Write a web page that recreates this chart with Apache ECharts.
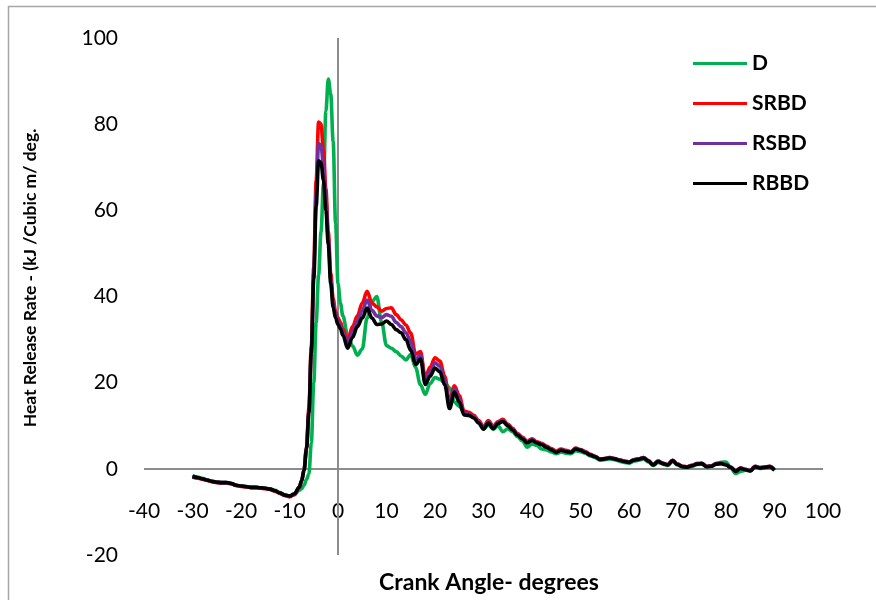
<!DOCTYPE html>
<html>
<head>
<meta charset="utf-8">
<script src="https://cdn.jsdelivr.net/npm/echarts@6/dist/echarts.min.js"></script>
<style>
  html, body { margin: 0; padding: 0; background: #fff; }
  #chart { width: 876px; height: 600px; }
</style>
</head>
<body>
<div id="chart"></div>
<script>
// Crank angle (degrees); finer steps through the main combustion peak
const angle = [
  -30, -29, -28, -27, -26, -25, -24, -23, -22, -21, -20, -19, -18, -17, -16, -15, -14, -13, -12, -11, -10, -9,
  -8, -7.5, -7, -6.5, -6, -5.5, -5, -4.5, -4, -3.5, -3, -2.5, -2, -1.5, -1, -0.5, 0, 0.5, 1,
  2, 3, 4, 5, 6, 7, 8, 9, 10, 11,
  12, 13, 14, 15, 16, 17, 18, 19, 20, 21,
  22, 23, 24, 25, 26, 27, 28, 29, 30, 31,
  32, 33, 34, 35, 36, 37, 38, 39, 40, 41,
  42, 43, 44, 45, 46, 47, 48, 49, 50, 51,
  52, 53, 54, 55, 56, 57, 58, 59, 60, 61,
  62, 63, 64, 65, 66, 67, 68, 69, 70, 71,
  72, 73, 74, 75, 76, 77, 78, 79, 80, 81,
  82, 83, 84, 85, 86, 87, 88, 89, 90
];

// Heat release rate, kJ / cubic m / deg
const hrrD = [
  -1.5, -1.9, -2.2, -2.6, -2.9, -3.1, -3.2, -3.2, -3.4, -3.8, -4.0, -4.1, -4.3, -4.3, -4.4, -4.5, -4.7, -5.0, -5.5, -6.0, -6.3, -6.0,
  -5.0, -4.6, -3.8, -2.5, -1.2, 6, 20, 34, 45, 55, 66, 83, 90.5, 87, 76, 57, 43, 38.5, 35.5,
  31, 28.5, 26.4, 27.8, 35, 38.8, 40, 34, 28.6, 28.0,
  27.2, 26.2, 25.3, 26.5, 23.5, 19.5, 17.3, 19.8, 21.2, 20.8,
  20.0, 18.8, 15.5, 14.5, 13.2, 12.4, 11.9, 11.2, 9.3, 10.2,
  9.2, 10.0, 8.6, 9.3, 8.6, 7.5, 6.5, 5.0, 5.8, 5.4,
  4.6, 4.4, 3.9, 3.5, 3.9, 3.6, 3.5, 4.2, 4.0, 3.6,
  3.0, 2.6, 2.0, 2.1, 2.3, 2.1, 1.8, 1.5, 1.3, 1.8,
  2.0, 2.3, 1.6, 0.8, 1.5, 1.1, 0.8, 1.7, 0.9, 0.4,
  0.3, 0.6, 1.0, 1.1, 0.5, 0.6, 1.2, 1.5, 1.6, 0.2,
  -1.1, -0.6, -0.3, -0.5, 0.4, 0.1, 0.2, 0.3, -0.4
];

const hrrSRBD = [
  -1.9, -2.1, -2.4, -2.7, -3.0, -3.2, -3.3, -3.3, -3.5, -3.9, -4.1, -4.2, -4.4, -4.4, -4.5, -4.6, -4.8, -5.2, -5.7, -6.2, -6.5, -6.0,
  -4.4, -2.8, -0.2, 5, 14, 28.5, 47, 67, 80.5, 80, 74, 65, 55, 45.5, 39.5, 36.5, 35, 34, 32.5,
  29.9, 33, 35.5, 38.5, 41.2, 38.5, 37.6, 36.6, 37.2, 37.4,
  35.8, 34.6, 33.4, 31.5, 26.6, 27.2, 21.2, 23.6, 25.8, 25.0,
  21.5, 15.6, 19.3, 17.0, 13.4, 13.1, 12.4, 11.2, 9.8, 11.2,
  9.9, 11.0, 11.5, 10.4, 9.4, 8.2, 7.4, 6.4, 7.0, 6.3,
  5.9, 5.3, 4.7, 4.1, 4.6, 4.3, 4.0, 4.8, 4.5, 4.0,
  3.4, 2.9, 2.3, 2.4, 2.6, 2.4, 2.1, 1.8, 1.6, 2.1,
  2.3, 2.6, 1.9, 1.0, 1.8, 1.3, 1.0, 2.0, 1.1, 0.6,
  0.5, 0.8, 1.2, 1.3, 0.6, 0.7, 1.2, 1.3, 1.0, 0.4,
  -0.5, 0.2, -0.1, -0.4, 0.6, 0.3, 0.4, 0.6, -0.2
];

const hrrRSBD = [
  -1.9, -2.1, -2.3, -2.6, -2.9, -3.1, -3.2, -3.2, -3.4, -3.8, -4.0, -4.1, -4.3, -4.3, -4.4, -4.5, -4.7, -5.1, -5.6, -6.1, -6.4, -5.9,
  -4.3, -2.8, -0.2, 4.8, 13.5, 27.5, 45.5, 64, 75.5, 75, 70.5, 62.5, 53.5, 44, 38.5, 35.8, 34.2, 33.2, 31.8,
  29, 31.8, 34.2, 36.7, 39.2, 36.8, 35.5, 35.1, 35.8, 35.4,
  34.0, 33.0, 31.6, 29.5, 25.4, 26.4, 20.4, 22.5, 24.6, 23.8,
  20.5, 14.8, 18.6, 16.2, 12.9, 12.7, 12.1, 10.9, 9.5, 10.9,
  9.6, 10.8, 11.2, 10.2, 9.2, 8.0, 7.2, 6.2, 6.8, 6.1,
  5.7, 5.1, 4.5, 3.9, 4.4, 4.1, 3.9, 4.7, 4.4, 3.9,
  3.3, 2.9, 2.3, 2.4, 2.6, 2.4, 2.1, 1.8, 1.6, 2.1,
  2.3, 2.6, 1.9, 1.0, 1.8, 1.3, 1.0, 2.0, 1.1, 0.6,
  0.5, 0.8, 1.2, 1.3, 0.6, 0.7, 1.2, 1.3, 1.0, 0.4,
  -0.5, 0.2, -0.1, -0.4, 0.6, 0.3, 0.4, 0.6, -0.2
];

const hrrRBBD = [
  -1.8, -2.0, -2.3, -2.6, -2.9, -3.1, -3.2, -3.2, -3.4, -3.8, -4.0, -4.1, -4.3, -4.3, -4.4, -4.5, -4.7, -5.1, -5.6, -6.1, -6.3, -5.8,
  -4.3, -2.8, -0.3, 4.5, 13, 27, 44, 61, 71.5, 71, 67, 60, 52, 43, 37.5, 35, 33.5, 32.5, 31,
  28, 30.5, 33, 35, 37.3, 35, 33.5, 33.6, 34.3, 33.5,
  32.3, 31.6, 30, 27.5, 24.2, 25.5, 19.6, 21.5, 23.4, 22.5,
  19.5, 14, 17.8, 15.5, 12.5, 12.4, 11.8, 10.6, 9.2, 10.6,
  9.3, 10.5, 11.0, 10, 9.0, 7.8, 7.0, 6.0, 6.6, 6.0,
  5.6, 5.0, 4.4, 3.8, 4.3, 4.0, 3.8, 4.6, 4.3, 3.8,
  3.2, 2.8, 2.2, 2.3, 2.5, 2.3, 2.0, 1.7, 1.5, 2.0,
  2.2, 2.5, 1.8, 0.9, 1.7, 1.2, 0.9, 1.9, 1.0, 0.5,
  0.4, 0.7, 1.1, 1.2, 0.5, 0.6, 1.1, 1.2, 0.9, 0.3,
  -0.6, 0.1, -0.2, -0.5, 0.5, 0.2, 0.3, 0.5, -0.3
];

const seriesNames = ['D', 'SRBD', 'RSBD', 'RBBD'];
const seriesColors = ['#00b050', '#ff0000', '#7030a0', '#000000'];
const seriesValues = [hrrD, hrrSRBD, hrrRSBD, hrrRBBD];

const xTicks = { min: -40, max: 100, step: 10 };
const yTicks = { min: -20, max: 100, step: 20 };

const FONT = 'Lato, "Liberation Sans", sans-serif';
const AXIS_GREY = '#8c8c8c';

function toPairs(values) {
  return angle.map((a, i) => [a, values[i]]);
}

const chart = echarts.init(document.getElementById('chart'), null, { renderer: 'canvas' });

const series = seriesNames.map((name, k) => ({
  name: name,
  type: 'line',
  data: toPairs(seriesValues[k]),
  showSymbol: false,
  symbol: 'none',
  smooth: 0.35,
  smoothMonotone: 'x',
  z: 3 + k,
  lineStyle: { color: seriesColors[k], width: 3.6 },
  itemStyle: { color: seriesColors[k] },
  emphasis: { disabled: true }
}));

// axis lines crossing at the origin (0 deg, 0 heat release)
series[0].markLine = {
  silent: true,
  symbol: ['none', 'none'],
  label: { show: false },
  lineStyle: { color: AXIS_GREY, width: 2, type: 'solid' },
  emphasis: { disabled: true },
  z: 1,
  data: [{ xAxis: 0 }, { yAxis: 0 }]
};

chart.setOption({
  animation: false,
  backgroundColor: '#ffffff',
  grid: { left: 144, right: 53, top: 38, bottom: 45, containLabel: false, outerBoundsMode: 'none' },
  xAxis: {
    type: 'value',
    min: xTicks.min,
    max: xTicks.max,
    interval: xTicks.step,
    position: 'bottom',
    axisLine: { show: false, onZero: false },
    axisTick: { show: false },
    splitLine: { show: false },
    axisLabel: { margin: -54, color: '#000', fontSize: 21, fontFamily: FONT }
  },
  yAxis: {
    type: 'value',
    min: yTicks.min,
    max: yTicks.max,
    interval: yTicks.step,
    position: 'left',
    axisLine: { show: false, onZero: false },
    axisTick: { show: false },
    splitLine: { show: false },
    axisLabel: { margin: 26, color: '#000', fontSize: 21, fontFamily: FONT }
  },
  legend: {
    data: seriesNames,
    orient: 'vertical',
    left: 688,
    top: 48,
    itemWidth: 54,
    itemHeight: 21,
    itemGap: 19,
    icon: 'path://M0,9 L54,9 L54,12 L0,12 Z',
    textStyle: { color: '#000', fontSize: 21, fontWeight: 'bold', fontFamily: FONT, lineHeight: 21 },
    selectedMode: false
  },
  graphic: [
    {
      type: 'rect',
      silent: true,
      shape: { x: 8.5, y: 6.5, width: 1000, height: 1000 },
      style: { fill: 'none', stroke: '#a6a6a6', lineWidth: 1.5 }
    },
    {
      type: 'text',
      silent: true,
      x: 30,
      y: 278,
      rotation: Math.PI / 2,
      style: {
        text: 'Heat Release Rate - (kJ /Cubic m/ deg.',
        fill: '#000',
        font: 'bold 17.5px ' + FONT,
        textAlign: 'center',
        textVerticalAlign: 'middle'
      }
    },
    {
      type: 'text',
      silent: true,
      x: 489,
      y: 583,
      style: {
        text: 'Crank Angle- degrees',
        fill: '#000',
        font: 'bold 23px ' + FONT,
        textAlign: 'center',
        textVerticalAlign: 'middle'
      }
    }
  ],
  series: series
});
</script>
</body>
</html>
